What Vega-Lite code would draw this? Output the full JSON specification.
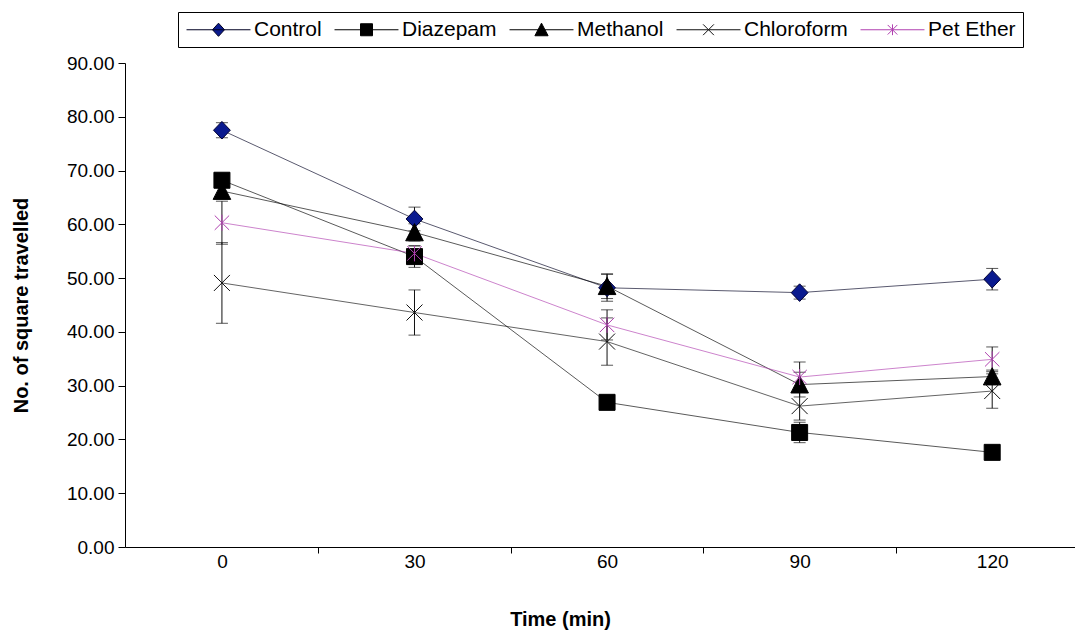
{
  "$schema": "https://vega.github.io/schema/vega-lite/v6.json",
  "width": 950,
  "height": 484,
  "autosize": {"type": "none"},
  "padding": {"left": 125, "top": 63, "right": 0, "bottom": 85},
  "background": "white",
  "data": {
    "values": [
      {"series": "Control", "time": 0, "value": 77.5, "lo": 76.1, "hi": 78.9},
      {"series": "Control", "time": 30, "value": 61.0, "lo": 58.8, "hi": 63.2},
      {"series": "Control", "time": 60, "value": 48.2, "lo": 45.7, "hi": 50.7},
      {"series": "Control", "time": 90, "value": 47.3, "lo": 46.1, "hi": 48.5},
      {"series": "Control", "time": 120, "value": 49.8, "lo": 47.8, "hi": 51.8},
      {"series": "Diazepam", "time": 0, "value": 68.2, "lo": 67.2, "hi": 69.2},
      {"series": "Diazepam", "time": 30, "value": 54.0, "lo": 52.0, "hi": 56.0},
      {"series": "Diazepam", "time": 60, "value": 26.9, "lo": 25.9, "hi": 27.9},
      {"series": "Diazepam", "time": 90, "value": 21.3, "lo": 19.4, "hi": 23.2},
      {"series": "Diazepam", "time": 120, "value": 17.6, "lo": 16.8, "hi": 18.4},
      {"series": "Methanol", "time": 0, "value": 66.2, "lo": 64.8, "hi": 67.6},
      {"series": "Methanol", "time": 30, "value": 58.5, "lo": 56.9, "hi": 60.1},
      {"series": "Methanol", "time": 60, "value": 48.5, "lo": 46.2, "hi": 50.8},
      {"series": "Methanol", "time": 90, "value": 30.2, "lo": 27.9, "hi": 32.5},
      {"series": "Methanol", "time": 120, "value": 31.7, "lo": 30.5, "hi": 32.9},
      {"series": "Chloroform", "time": 0, "value": 49.1, "lo": 41.6, "hi": 56.6},
      {"series": "Chloroform", "time": 30, "value": 43.6, "lo": 39.4, "hi": 47.8},
      {"series": "Chloroform", "time": 60, "value": 38.2, "lo": 33.8, "hi": 42.6},
      {"series": "Chloroform", "time": 90, "value": 26.2, "lo": 23.6, "hi": 28.8},
      {"series": "Chloroform", "time": 120, "value": 29.0, "lo": 25.8, "hi": 32.2},
      {"series": "Pet Ether", "time": 0, "value": 60.3, "lo": 56.3, "hi": 64.3},
      {"series": "Pet Ether", "time": 30, "value": 54.6, "lo": 53.2, "hi": 56.0},
      {"series": "Pet Ether", "time": 60, "value": 41.3, "lo": 38.5, "hi": 44.1},
      {"series": "Pet Ether", "time": 90, "value": 31.6, "lo": 28.8, "hi": 34.4},
      {"series": "Pet Ether", "time": 120, "value": 34.9, "lo": 32.6, "hi": 37.2}
    ]
  },
  "encoding": {
    "x": {
      "field": "time", "type": "quantitative",
      "scale": {"domain": [-15.1, 132.9], "nice": false, "zero": false},
      "axis": {
        "values": [0, 30, 60, 90, 120],
        "format": "d",
        "title": "Time (min)",
        "titleX": 435,
        "tickOffset": 96.3,
        "labelOffset": -96.3,
        "tickSize": 6,
        "labelPadding": -1,
        "titlePadding": 38
      }
    },
    "y": {
      "field": "value", "type": "quantitative",
      "scale": {"domain": [0, 90], "nice": false, "zero": true},
      "axis": {
        "values": [0, 10, 20, 30, 40, 50, 60, 70, 80, 90],
        "format": ".2f",
        "title": "No. of square travelled",
        "tickSize": 7,
        "labelPadding": 4,
        "titlePadding": 35
      }
    }
  },
  "layer": [
    {
      "mark": {"type": "line", "strokeWidth": 1, "strokeOpacity": 0.65},
      "encoding": {
        "color": {
          "field": "series", "type": "nominal",
          "scale": {
            "domain": ["Pet Ether", "Chloroform", "Methanol", "Diazepam", "Control"],
            "range": ["#B040B0", "#111111", "#000000", "#000000", "#000022"]
          },
          "legend": null
        },
        "detail": {"field": "series"}
      }
    },
    {
      "mark": {"type": "errorbar", "orient": "vertical", "ticks": {"size": 12, "color": "#111", "strokeWidth": 1}, "rule": {"color": "#111", "strokeWidth": 1}},
      "encoding": {
        "y": {"field": "lo", "type": "quantitative", "title": "No. of square travelled"},
        "y2": {"field": "hi"},
        "detail": {"field": "series"}
      }
    },
    {
      "transform": [{"filter": "datum.series === 'Control'"}],
      "mark": {"type": "point", "shape": "M0,-1.1L1.05,0L0,1.1L-1.05,0Z", "size": 256, "filled": true, "fill": "#0A1A8F", "stroke": "#000033", "strokeWidth": 1, "opacity": 1}
    },
    {
      "transform": [{"filter": "datum.series === 'Diazepam'"}],
      "mark": {"type": "point", "shape": "M-1,-1H1V1H-1Z", "size": 256, "filled": true, "fill": "#000000", "stroke": "#000000", "strokeWidth": 1, "opacity": 1}
    },
    {
      "transform": [{"filter": "datum.series === 'Methanol'"}],
      "mark": {"type": "point", "shape": "M0,-1.1L1.1,1.05L-1.1,1.05Z", "size": 256, "filled": true, "fill": "#000000", "stroke": "#000000", "strokeWidth": 1, "opacity": 1}
    },
    {
      "transform": [{"filter": "datum.series === 'Chloroform'"}],
      "mark": {"type": "point", "shape": "M-1,-1L1,1M-1,1L1,-1", "size": 256, "filled": false, "fill": "transparent", "stroke": "#111111", "strokeWidth": 1, "opacity": 1}
    },
    {
      "transform": [{"filter": "datum.series === 'Pet Ether'"}],
      "mark": {"type": "point", "shape": "M-0.9,-0.9L0.9,0.9M-0.9,0.9L0.9,-0.9M0,-1V1", "size": 256, "filled": false, "fill": "transparent", "stroke": "#B040B0", "strokeWidth": 1, "opacity": 1}
    },
    {
      "mark": {"type": "point", "opacity": 0, "filled": true, "size": 144, "strokeWidth": 1},
      "encoding": {
        "shape": {
          "field": "series", "type": "nominal",
          "scale": {
            "domain": ["Control", "Diazepam", "Methanol", "Chloroform", "Pet Ether"],
            "range": [
              "M-5.33,0H5.33M0,-1.1L1,0L0,1.1L-1,0Z",
              "M-5.33,0H5.33M-1,-1H1V1H-1Z",
              "M-5.33,0H5.33M0,-1.1L1.1,1L-1.1,1Z",
              "M-5.33,0H5.33M-0.9,-0.9L0.9,0.9M-0.9,0.9L0.9,-0.9",
              "M-5.33,0H5.33M-0.8,-0.8L0.8,0.8M-0.8,0.8L0.8,-0.8M0,-0.9V0.9"
            ]
          },
          "legend": {
            "title": null,
            "orient": "none",
            "direction": "horizontal",
            "legendX": 53,
            "legendY": -51,
            "strokeColor": "#000",
            "padding": 7,
            "labelFont": "Liberation Sans",
            "labelFontSize": 21,
            "labelColor": "#000",
            "symbolSize": 144,
            "symbolStrokeWidth": 1,
            "symbolOpacity": 1,
            "symbolOffset": 23,
            "labelOffset": 25,
            "columnPadding": 10
          }
        },
        "fill": {
          "field": "series", "type": "nominal",
          "scale": {
            "domain": ["Control", "Diazepam", "Methanol", "Chloroform", "Pet Ether"],
            "range": ["#0A1A8F", "#000000", "#000000", "transparent", "transparent"]
          }
        },
        "stroke": {
          "field": "series", "type": "nominal",
          "scale": {
            "domain": ["Control", "Diazepam", "Methanol", "Chloroform", "Pet Ether"],
            "range": ["#000022", "#000000", "#000000", "#111111", "#B040B0"]
          }
        }
      }
    }
  ],
  "config": {
    "view": {"stroke": null},
    "axis": {
      "grid": false,
      "domainColor": "#000",
      "tickColor": "#000",
      "labelColor": "#000",
      "titleColor": "#000",
      "labelFont": "Liberation Sans",
      "titleFont": "Liberation Sans",
      "labelFontSize": 19,
      "titleFontSize": 20,
      "titleFontWeight": "bold"
    }
  }
}
